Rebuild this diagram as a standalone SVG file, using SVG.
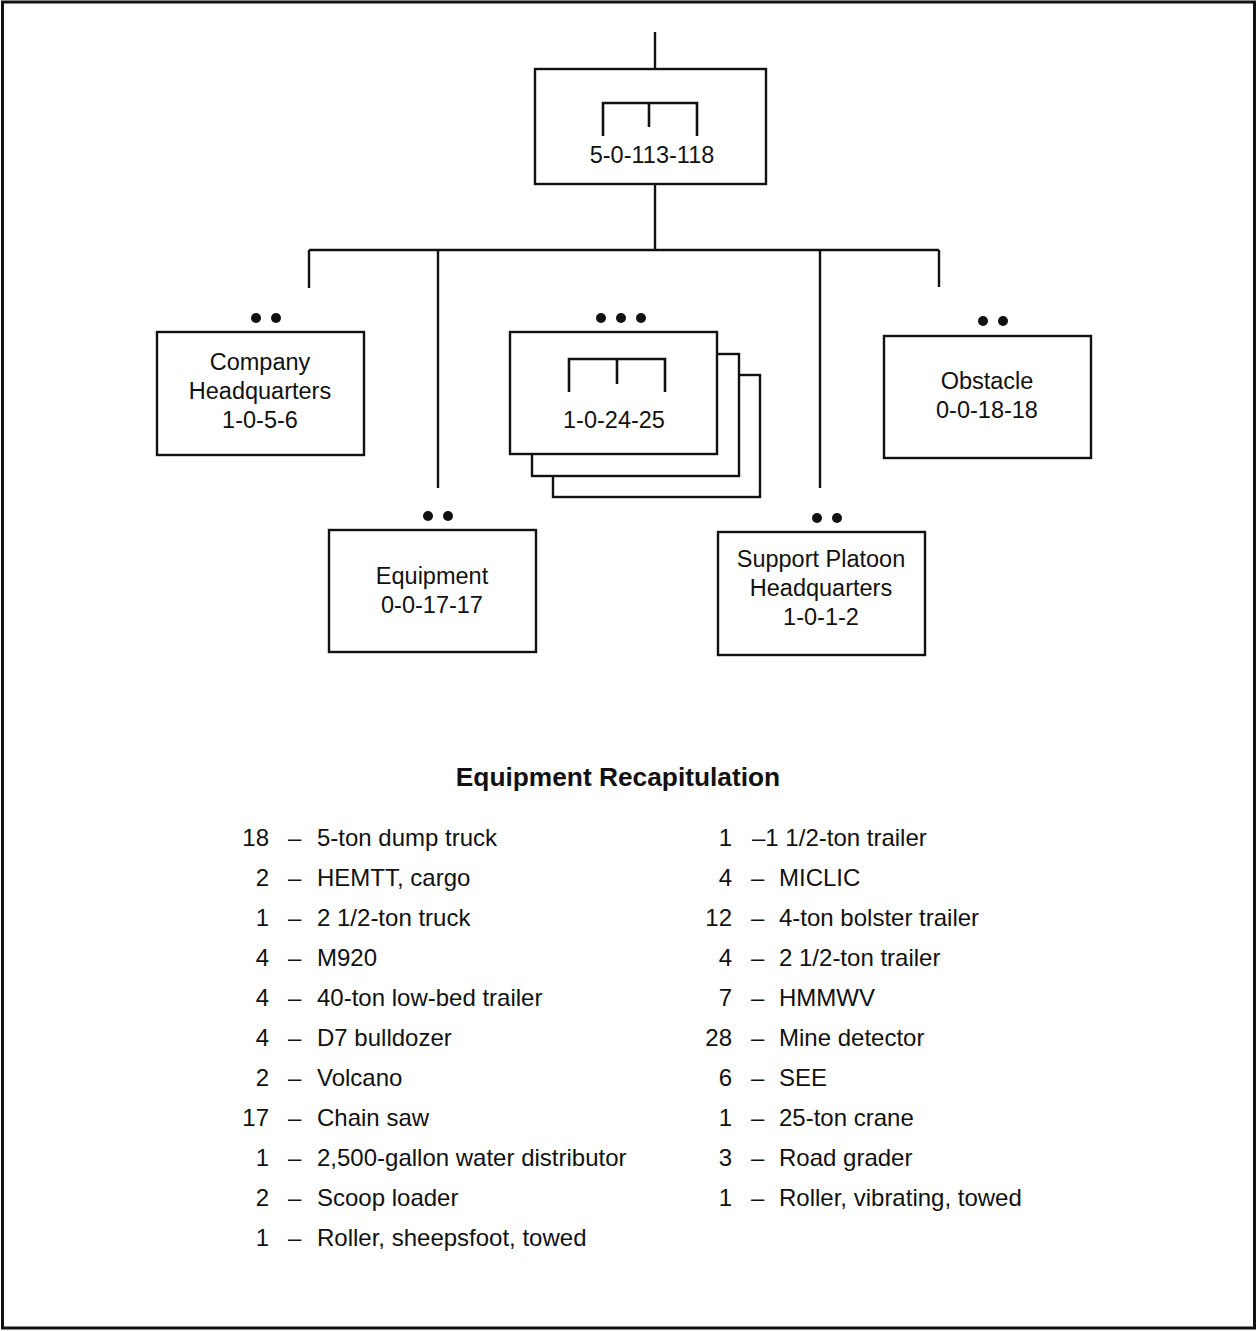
<svg xmlns="http://www.w3.org/2000/svg" width="1257" height="1331" viewBox="0 0 1257 1331">
  <style>
    .box { fill: #fff; stroke: #111; stroke-width: 2.4; }
    .ln { fill: none; stroke: #111; stroke-width: 2.4; }
    .sym { fill: none; stroke: #111; stroke-width: 2.6; }
    .dot { fill: #111; }
    .lbl { font-family: "Liberation Sans", Arial, sans-serif; font-size: 23.5px; fill: #111; text-anchor: middle; }
    .title { font-family: "Liberation Sans", Arial, sans-serif; font-size: 26.3px; font-weight: bold; fill: #111; text-anchor: middle; }
    .li { font-family: "Liberation Sans", Arial, sans-serif; font-size: 24px; fill: #111; }
    .num { text-anchor: end; }
  </style>

  <rect x="0" y="0" width="1257" height="1331" fill="#fff"/>
  <!-- outer frame -->
  <rect x="2.5" y="2" width="1252" height="1326" fill="none" stroke="#111" stroke-width="3"/>

  <!-- connectors -->
  <g id="connectors">
    <line class="ln" x1="655" y1="32" x2="655" y2="69"/>
    <line class="ln" x1="655" y1="184" x2="655" y2="250"/>
    <line class="ln" x1="309" y1="250" x2="939" y2="250"/>
    <line class="ln" x1="309" y1="250" x2="309" y2="288"/>
    <line class="ln" x1="438" y1="250" x2="438" y2="488"/>
    <line class="ln" x1="820" y1="250" x2="820" y2="488"/>
    <line class="ln" x1="939" y1="250" x2="939" y2="287"/>
  </g>

  <!-- company -->
  <g id="company">
    <rect class="box" x="535" y="69" width="231" height="115"/>
    <path class="sym" d="M603,136 V103 H697 V136 M649,103 V127"/>
    <text class="lbl" x="652" y="163">5-0-113-118</text>
  </g>

  <!-- company headquarters -->
  <g id="company-hq">
    <circle class="dot" cx="256" cy="318" r="5"/>
    <circle class="dot" cx="276" cy="318" r="5"/>
    <rect class="box" x="157" y="332" width="207" height="123"/>
    <text class="lbl" x="260" y="370">Company</text>
    <text class="lbl" x="260" y="399">Headquarters</text>
    <text class="lbl" x="260" y="428">1-0-5-6</text>
  </g>

  <!-- platoons (stack of three) -->
  <g id="platoons">
    <circle class="dot" cx="601" cy="318" r="5"/>
    <circle class="dot" cx="621" cy="318" r="5"/>
    <circle class="dot" cx="641" cy="318" r="5"/>
    <rect class="box" x="553" y="375" width="207" height="122"/>
    <rect class="box" x="532" y="354" width="207" height="122"/>
    <rect class="box" x="510" y="332" width="207" height="122"/>
    <path class="sym" d="M569,392 V359 H665 V392 M617,359 V384"/>
    <text class="lbl" x="614" y="428">1-0-24-25</text>
  </g>

  <!-- obstacle -->
  <g id="obstacle">
    <circle class="dot" cx="983" cy="321" r="5"/>
    <circle class="dot" cx="1003" cy="321" r="5"/>
    <rect class="box" x="884" y="336" width="207" height="122"/>
    <text class="lbl" x="987" y="389">Obstacle</text>
    <text class="lbl" x="987" y="418">0-0-18-18</text>
  </g>

  <!-- equipment -->
  <g id="equipment">
    <circle class="dot" cx="428" cy="516" r="5"/>
    <circle class="dot" cx="448" cy="516" r="5"/>
    <rect class="box" x="329" y="530" width="207" height="122"/>
    <text class="lbl" x="432" y="584">Equipment</text>
    <text class="lbl" x="432" y="613">0-0-17-17</text>
  </g>

  <!-- support platoon headquarters -->
  <g id="support-hq">
    <circle class="dot" cx="817" cy="518" r="5"/>
    <circle class="dot" cx="837" cy="518" r="5"/>
    <rect class="box" x="718" y="532" width="207" height="123"/>
    <text class="lbl" x="821" y="567">Support Platoon</text>
    <text class="lbl" x="821" y="596">Headquarters</text>
    <text class="lbl" x="821" y="625">1-0-1-2</text>
  </g>

  <!-- equipment recapitulation -->
  <g id="recap">
    <text class="title" x="618" y="786">Equipment Recapitulation</text>

    <g class="li">
      <text class="num" x="269" y="846">18</text><text x="288" y="846">–</text><text x="317" y="846">5-ton dump truck</text>
      <text class="num" x="269" y="886">2</text><text x="288" y="886">–</text><text x="317" y="886">HEMTT, cargo</text>
      <text class="num" x="269" y="926">1</text><text x="288" y="926">–</text><text x="317" y="926">2 1/2-ton truck</text>
      <text class="num" x="269" y="966">4</text><text x="288" y="966">–</text><text x="317" y="966">M920</text>
      <text class="num" x="269" y="1006">4</text><text x="288" y="1006">–</text><text x="317" y="1006">40-ton low-bed trailer</text>
      <text class="num" x="269" y="1046">4</text><text x="288" y="1046">–</text><text x="317" y="1046">D7 bulldozer</text>
      <text class="num" x="269" y="1086">2</text><text x="288" y="1086">–</text><text x="317" y="1086">Volcano</text>
      <text class="num" x="269" y="1126">17</text><text x="288" y="1126">–</text><text x="317" y="1126">Chain saw</text>
      <text class="num" x="269" y="1166">1</text><text x="288" y="1166">–</text><text x="317" y="1166">2,500-gallon water distributor</text>
      <text class="num" x="269" y="1206">2</text><text x="288" y="1206">–</text><text x="317" y="1206">Scoop loader</text>
      <text class="num" x="269" y="1246">1</text><text x="288" y="1246">–</text><text x="317" y="1246">Roller, sheepsfoot, towed</text>

      <text class="num" x="732" y="846">1</text><text x="752" y="846">–1 1/2-ton trailer</text>
      <text class="num" x="732" y="886">4</text><text x="751" y="886">–</text><text x="779" y="886">MICLIC</text>
      <text class="num" x="732" y="926">12</text><text x="751" y="926">–</text><text x="779" y="926">4-ton bolster trailer</text>
      <text class="num" x="732" y="966">4</text><text x="751" y="966">–</text><text x="779" y="966">2 1/2-ton trailer</text>
      <text class="num" x="732" y="1006">7</text><text x="751" y="1006">–</text><text x="779" y="1006">HMMWV</text>
      <text class="num" x="732" y="1046">28</text><text x="751" y="1046">–</text><text x="779" y="1046">Mine detector</text>
      <text class="num" x="732" y="1086">6</text><text x="751" y="1086">–</text><text x="779" y="1086">SEE</text>
      <text class="num" x="732" y="1126">1</text><text x="751" y="1126">–</text><text x="779" y="1126">25-ton crane</text>
      <text class="num" x="732" y="1166">3</text><text x="751" y="1166">–</text><text x="779" y="1166">Road grader</text>
      <text class="num" x="732" y="1206">1</text><text x="751" y="1206">–</text><text x="779" y="1206">Roller, vibrating, towed</text>
    </g>
  </g>
</svg>
